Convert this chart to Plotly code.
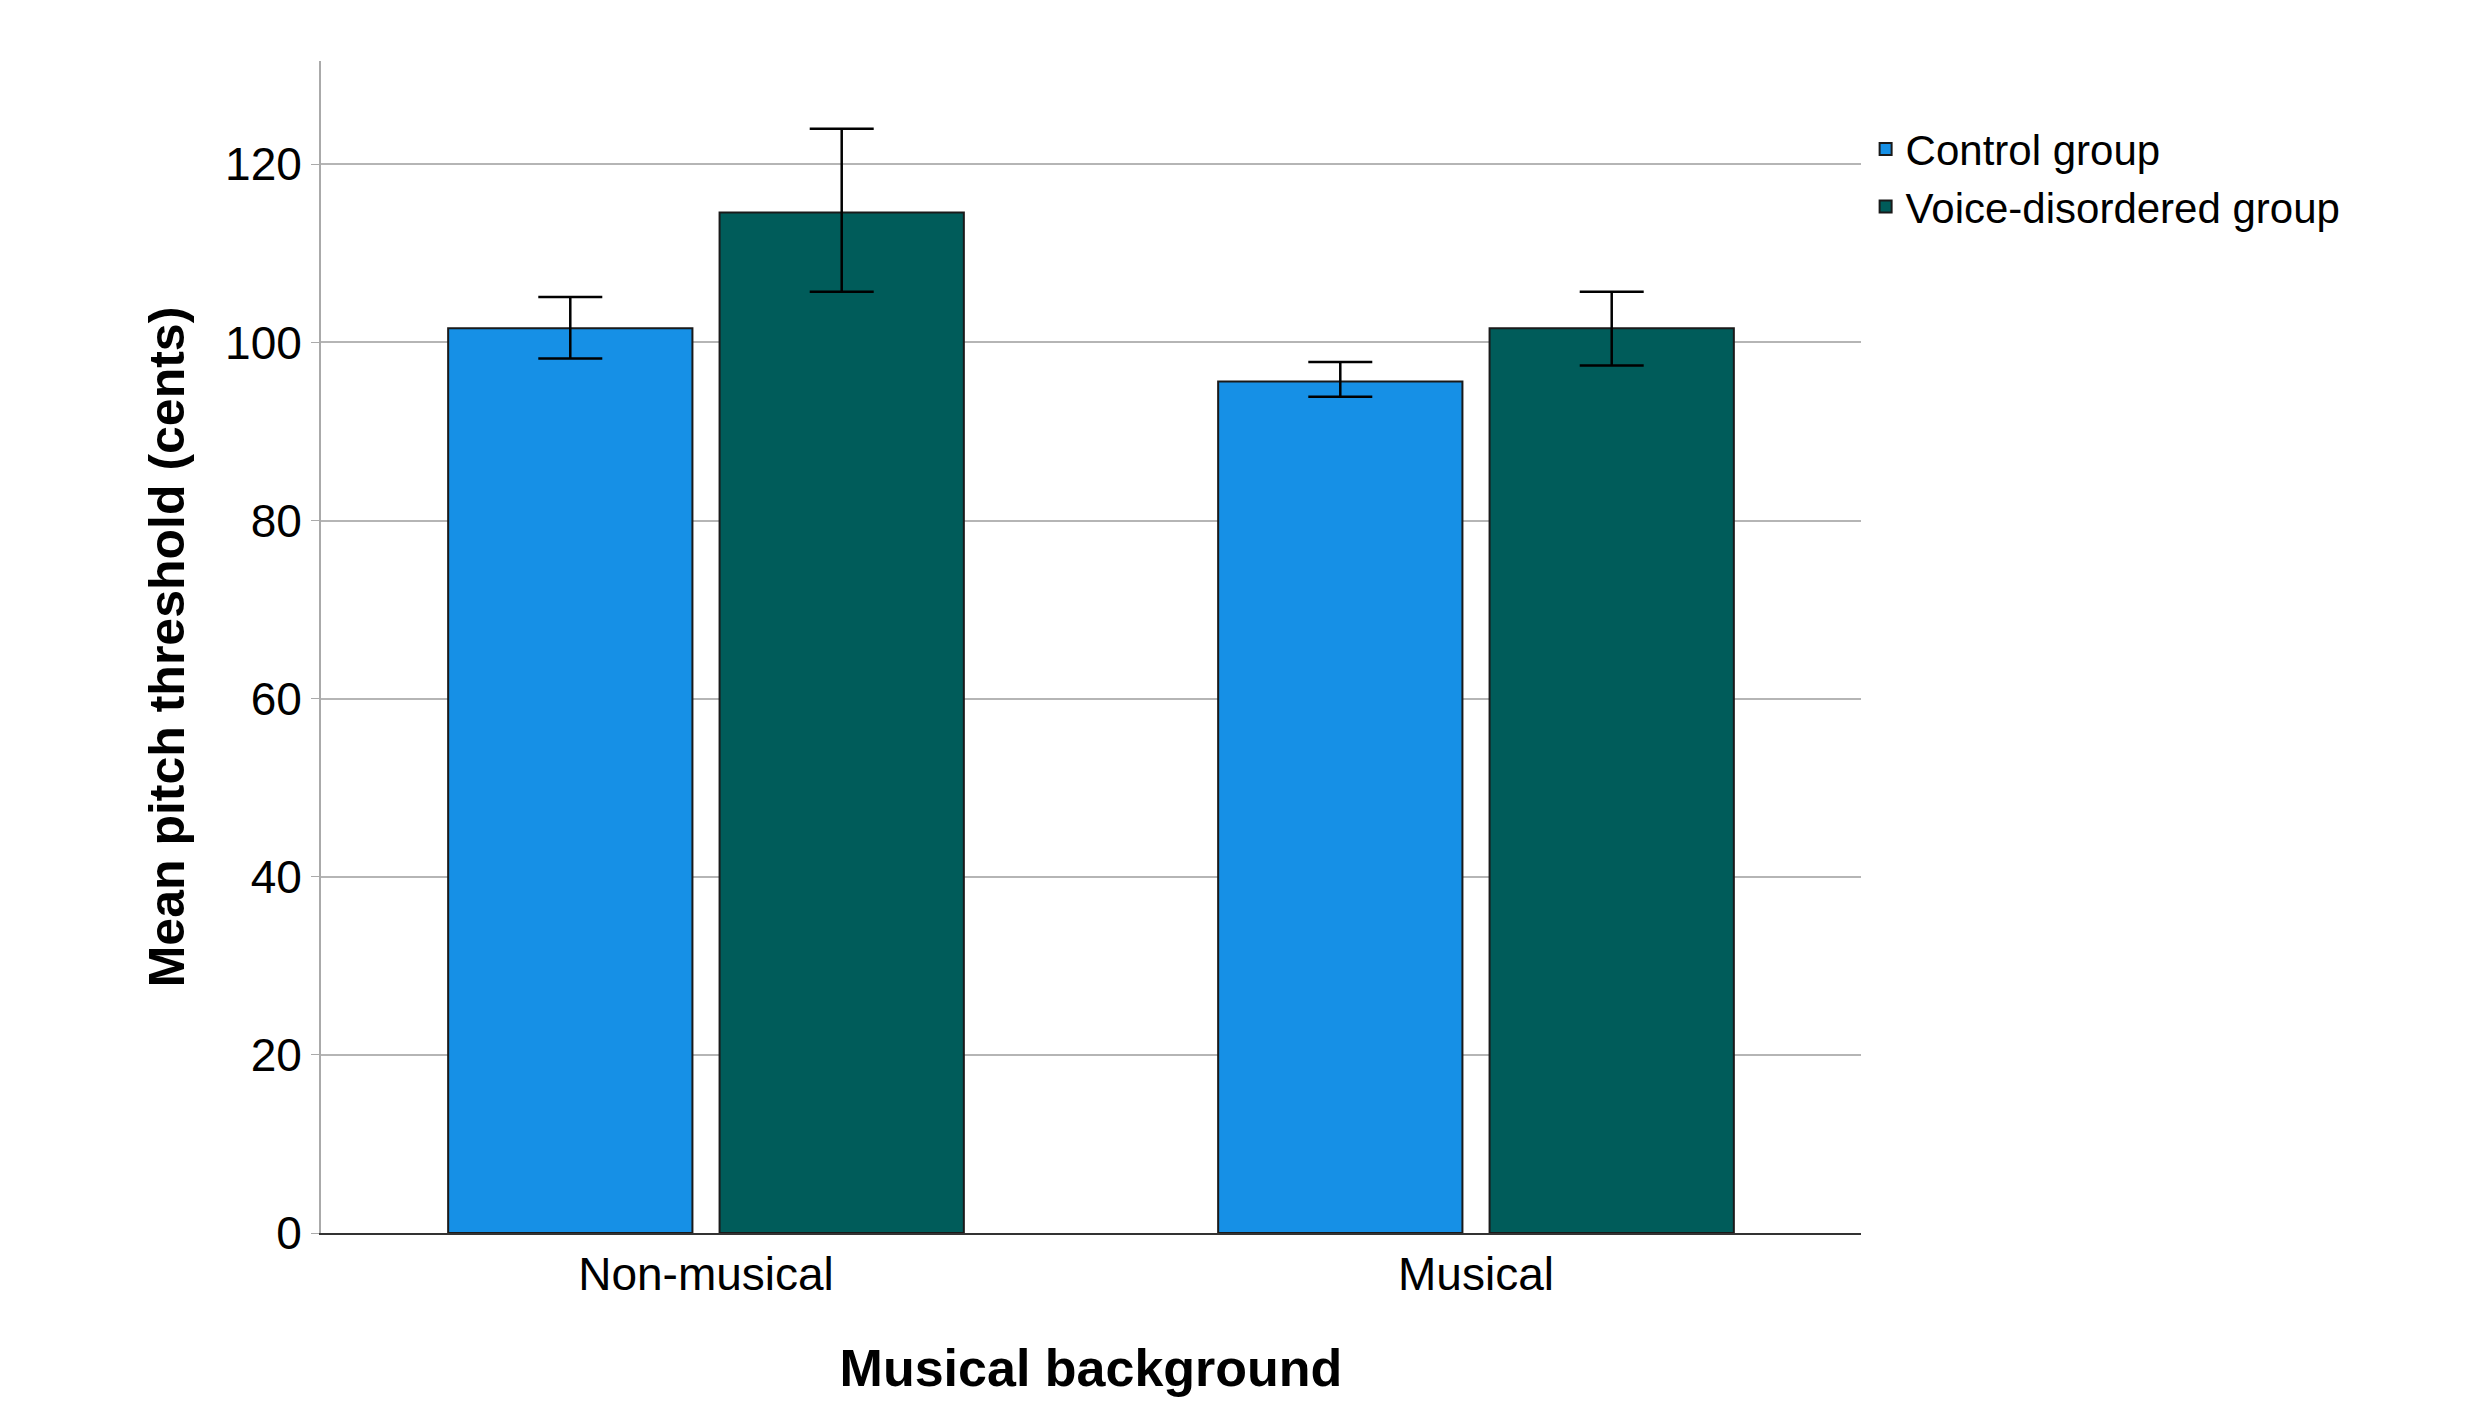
import plotly.graph_objects as go

categories = ["Non-musical", "Musical"]
control = [101.6, 95.6]
control_hi = [105.1, 97.8]
control_lo = [98.2, 93.9]
voice = [114.6, 101.6]
voice_hi = [124.0, 105.7]
voice_lo = [105.7, 97.4]

def bar(name, vals, hi, lo, color):
    return go.Bar(
        name=name, x=categories, y=vals,
        marker=dict(color=color, line=dict(color="#1a1a1a", width=2)),
        error_y=dict(type="data", symmetric=False,
                     array=[h - v for h, v in zip(hi, vals)],
                     arrayminus=[v - l for v, l in zip(vals, lo)],
                     color="black", thickness=2.5, width=32),
    )

fig = go.Figure([bar("Control group", control, control_hi, control_lo, "#1690e6"),
                 bar("Voice-disordered group", voice, voice_hi, voice_lo, "#005c5a")])
font = "Liberation Sans, Arial, sans-serif"
fig.update_layout(
    width=2473, height=1417, plot_bgcolor="white", paper_bgcolor="white",
    font=dict(family=font, color="black"),
    margin=dict(l=313, r=620, t=53, b=192),
    barmode="group", bargap=0.295, bargroupgap=0.1,
    legend=dict(x=1.003, y=0.9, xanchor="left", yanchor="middle",
                font=dict(size=42), tracegroupgap=0, itemwidth=30),
    showlegend=True,
)
fig.update_xaxes(title=dict(text="<b>Musical background</b>", font=dict(size=52), standoff=50),
                 tickfont=dict(size=46), showline=True, linecolor="#333", linewidth=2,
                 ticks="")
fig.update_yaxes(title=dict(text="<b>Mean pitch threshold (cents)</b>", font=dict(size=50), standoff=25),
                 range=[0, 131.6], tickvals=[0, 20, 40, 60, 80, 100, 120],
                 tickfont=dict(size=46), showgrid=True, gridcolor="#b5b5b5", gridwidth=2,
                 showline=True, linecolor="#aaa", linewidth=2, ticks="outside",
                 ticklen=8, tickcolor="#aaa", zeroline=False)
fig.write_html("out.html")
